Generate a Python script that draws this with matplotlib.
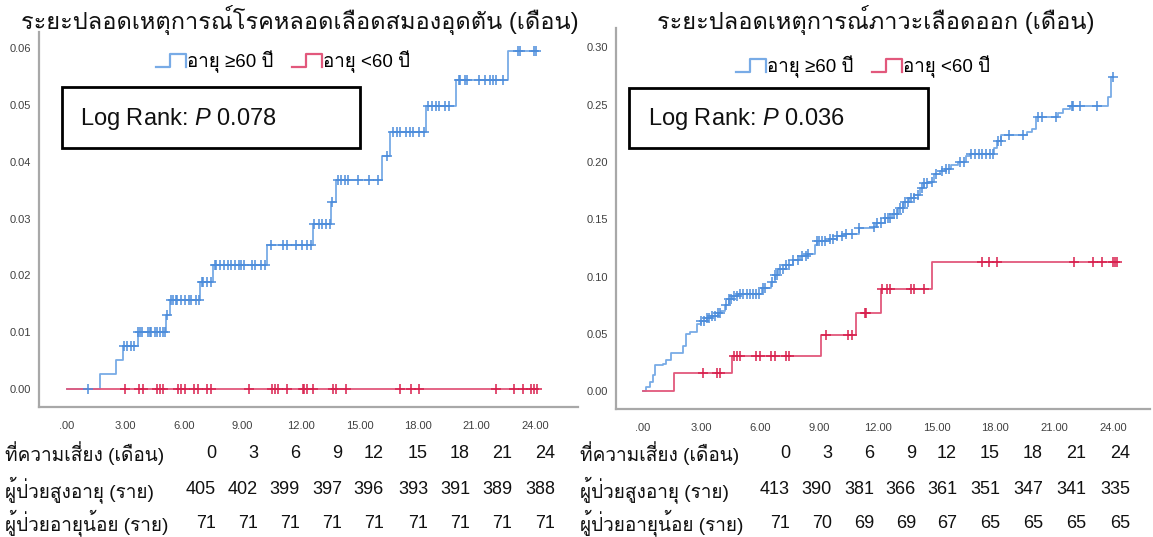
import matplotlib
matplotlib.use("Agg")
import matplotlib.pyplot as plt
import numpy as np
from matplotlib.lines import Line2D
from matplotlib.patches import Rectangle
from matplotlib.legend_handler import HandlerBase

plt.rcParams['font.family'] = ['Liberation Sans', 'Loma', 'Noto Sans Thai Looped', 'DejaVu Sans']
plt.rcParams['mathtext.fontset'] = 'custom'
plt.rcParams['mathtext.rm'] = 'Liberation Sans'
plt.rcParams['mathtext.it'] = 'Liberation Sans:italic'

# ---------------- data ----------------
titles = ["ระยะปลอดเหตุการณ์โรคหลอดเลือดสมองอุดตัน (เดือน)",
          "ระยะปลอดเหตุการณ์ภาวะเลือดออก (เดือน)"]
legend_labels = ["อายุ ≥60 ปี", "อายุ <60 ปี"]
pvalue_texts = ["Log Rank: $\\mathit{P}$ 0.078", "Log Rank: $\\mathit{P}$ 0.036"]

# Left panel (ischemic stroke): elderly group
l_old_t = [1.70, 2.51, 2.86, 3.62, 5.09, 5.28, 6.84, 7.50, 10.27, 12.61, 13.52, 13.79,
           16.13, 16.57, 18.38, 19.95, 22.60]
l_old_v = [0.0026, 0.0051, 0.0075, 0.0101, 0.0130, 0.0157, 0.0188, 0.0219, 0.0254, 0.0290,
           0.0330, 0.0368, 0.0410, 0.0453, 0.0498, 0.0545, 0.0595]
l_old_end = 24.1
l_old_cens = [1.09, 2.90, 3.09, 3.28, 3.41, 3.66, 3.75, 3.85, 4.13, 4.23, 4.32, 4.51, 4.61,
              4.74, 4.90, 5.03, 5.12, 5.31, 5.43, 5.56, 5.66, 5.85, 6.04, 6.23, 6.38, 6.61,
              6.76, 6.90, 6.99, 7.18, 7.37, 7.56, 7.66, 7.85, 8.04, 8.23, 8.42, 8.61, 8.80,
              8.90, 9.09, 9.47, 9.66, 9.94, 10.13, 10.48, 11.09, 11.28, 11.75, 12.04, 12.32,
              12.51, 12.67, 12.90, 13.09, 13.28, 13.47, 13.56, 13.89, 14.04, 14.23, 14.42,
              14.90, 15.47, 15.94, 16.42, 16.70, 16.90, 17.09, 17.37, 17.56, 17.75, 18.04,
              18.32, 18.51, 18.70, 18.90, 19.09, 19.37, 19.56, 20.10, 20.15, 20.41, 20.50,
              21.10, 21.44, 21.70, 21.85, 22.00, 22.36, 23.14, 23.23, 23.95, 24.05]
# Left panel: younger group (no events)
l_young_t = []
l_young_v = []
l_young_end = 24.1
l_young_cens = [2.99, 3.71, 3.90, 4.61, 4.74, 4.90, 5.71, 5.85, 6.04, 6.51, 6.70, 7.18, 7.37,
                9.31, 10.51, 10.65, 10.84, 11.28, 12.10, 12.17, 12.29, 12.61, 13.62, 13.81,
                14.32, 17.05, 17.62, 18.04, 22.00, 22.90, 23.37, 23.79, 23.94, 24.10]

# Right panel (bleeding): elderly group
r_old_t = [0.15, 0.34, 0.53, 0.62, 1.00, 1.18, 1.43, 2.03, 2.22, 2.40, 2.74, 2.97, 3.25,
           3.53, 3.81, 4.00, 4.19, 4.38, 4.56, 4.85, 6.07, 6.54, 6.72, 6.91, 7.29, 7.66,
           8.04, 8.41, 8.79, 8.88, 9.54, 9.92, 10.29, 11.04, 11.79, 11.89, 12.36, 12.73,
           13.01, 13.30, 13.58, 13.86, 14.14, 14.33, 14.61, 14.89, 15.17, 15.46, 15.74,
           16.11, 16.49, 16.68, 17.95, 18.10, 18.30, 19.60, 19.85, 20.10, 21.20, 21.45,
           21.80, 23.75, 23.90]
r_old_v = [0.0035, 0.0078, 0.0136, 0.0223, 0.0238, 0.0267, 0.0331, 0.0397, 0.0499, 0.0519,
           0.0586, 0.0615, 0.0635, 0.0658, 0.0682, 0.0702, 0.0751, 0.0803, 0.0832, 0.0847,
           0.0896, 0.0948, 0.1012, 0.1064, 0.1099, 0.1146, 0.1180, 0.1195, 0.1273, 0.1311,
           0.1331, 0.1354, 0.1369, 0.1427, 0.1436, 0.1470, 0.1510, 0.1545, 0.1595, 0.1650,
           0.1685, 0.1712, 0.1775, 0.1813, 0.1824, 0.1891, 0.1920, 0.1940, 0.1978, 0.1998,
           0.2050, 0.2070, 0.2120, 0.2180, 0.2240, 0.2260, 0.2290, 0.2395, 0.2430, 0.2460,
           0.2490, 0.2570, 0.2745]
r_old_end = 24.0
r_old_cens = [2.97, 3.12, 3.25, 3.38, 3.53, 3.68, 3.81, 3.94, 4.24, 4.38, 4.47, 4.66, 4.81,
              4.94, 5.13, 5.31, 5.45, 5.60, 5.78, 5.93, 6.12, 6.25, 6.57, 6.72, 6.87, 7.00,
              7.14, 7.29, 7.47, 7.66, 7.94, 8.13, 8.32, 8.45, 8.88, 9.01, 9.16, 9.31, 9.54,
              9.73, 9.92, 10.14, 10.38, 10.67, 11.04, 11.79, 11.94, 12.17, 12.36, 12.51,
              12.64, 12.83, 12.96, 13.11, 13.26, 13.39, 13.52, 13.67, 13.82, 14.05, 14.23,
              14.38, 14.52, 14.76, 14.95, 15.27, 15.46, 15.64, 16.21, 16.39, 16.77, 16.96,
              17.15, 17.33, 17.52, 17.71, 17.90, 18.14, 18.27, 18.70, 19.40, 20.20, 20.40,
              21.10, 21.90, 21.96, 22.30, 23.20, 24.00]
# Right panel: younger group
r_young_t = [1.56, 4.56, 9.07, 10.89, 12.17, 14.76]
r_young_v = [0.016, 0.031, 0.049, 0.068, 0.089, 0.113]
r_young_end = 24.19
r_young_cens = [3.06, 3.76, 3.91, 4.66, 4.79, 4.94, 5.78, 5.97, 6.54, 6.72, 7.29, 7.44,
                9.35, 10.48, 10.67, 11.32, 11.38, 12.21, 12.45, 12.64, 13.67, 13.86, 14.38,
                17.33, 17.65, 18.08, 22.03, 22.97, 23.44, 24.00, 24.09, 24.19]

# risk table
risk_header = "ที่ความเสี่ยง (เดือน)"
risk_row_old = "ผู้ป่วยสูงอายุ (ราย)"
risk_row_young = "ผู้ป่วยอายุน้อย (ราย)"
risk_months = [0, 3, 6, 9, 12, 15, 18, 21, 24]
l_risk_old = [405, 402, 399, 397, 396, 393, 391, 389, 388]
l_risk_young = [71, 71, 71, 71, 71, 71, 71, 71, 71]
r_risk_old = [413, 390, 381, 366, 361, 351, 347, 341, 335]
r_risk_young = [71, 70, 69, 69, 67, 65, 65, 65, 65]

xticks = [0, 3, 6, 9, 12, 15, 18, 21, 24]

# ---------------- style ----------------
BLUE_LINE = '#78abe6'
BLUE_MK = '#4d8ddb'
RED_LINE = '#e2587c'
RED_MK = '#d8214e'
W, H = 1153, 537

fig = plt.figure(figsize=(W / 100, H / 100), dpi=100)


def fx(px):
    return px / W


def fy(py):
    return 1 - py / H


def km(ax, times, vals, end, cens, lc, mc):
    xs = np.concatenate([[0.0], np.asarray(times, float), [end]])
    ys = np.concatenate([[0.0], np.asarray(vals, float), [vals[-1] if len(vals) else 0.0]])
    ax.step(xs, ys, where='post', color=lc, lw=1.3, zorder=2)
    c = np.asarray(cens, float)
    idx = np.searchsorted(xs, c, side='right') - 1
    ax.plot(c, ys[idx], ls='none', marker='+', ms=7, mew=1.1, color=mc, zorder=3)


class StepHandler(HandlerBase):
    def create_artists(self, legend, orig_handle, xdescent, ydescent, width, height,
                       fontsize, trans):
        x0, y0 = -xdescent, -ydescent
        xs = [x0, x0 + 0.45 * width, x0 + 0.45 * width, x0 + width, x0 + width]
        ys = [y0, y0, y0 + height * 1.05, y0 + height * 1.05, y0]
        ln = Line2D(xs, ys, color=orig_handle.get_color(), lw=1.6)
        ln.set_transform(trans)
        return [ln]


panels = [
    dict(rect=(39, 32, 578, 407), xlim=(-1.44, 26.2), ylim=(-0.0032, 0.0629),
         yticks=[0, 0.01, 0.02, 0.03, 0.04, 0.05, 0.06],
         old=(l_old_t, l_old_v, l_old_end, l_old_cens),
         young=(l_young_t, l_young_v, l_young_end, l_young_cens),
         title_x=300, legend_x=283, legend_y=62, box=(62, 87, 360, 148), text_x=80,
         risk_old=l_risk_old, risk_young=l_risk_young, label_x=5,
         col_x=[216, 258, 300, 342, 384, 428, 470, 512, 555]),
    dict(rect=(616, 28, 1150, 409), xlim=(-1.38, 25.9), ylim=(-0.0157, 0.317),
         yticks=[0, 0.05, 0.10, 0.15, 0.20, 0.25, 0.30],
         old=(r_old_t, r_old_v, r_old_end, r_old_cens),
         young=(r_young_t, r_young_v, r_young_end, r_young_cens),
         title_x=876, legend_x=863, legend_y=67, box=(629, 88, 928, 148), text_x=648,
         risk_old=r_risk_old, risk_young=r_risk_young, label_x=580,
         col_x=[790, 832, 874, 916, 957, 1000, 1043, 1086, 1130]),
]

for i, p in enumerate(panels):
    x0, y0, x1, y1 = p['rect']
    ax = fig.add_axes([fx(x0), fy(y1), fx(x1 - x0), (y1 - y0) / H])
    km(ax, *p['old'], BLUE_LINE, BLUE_MK)
    km(ax, *p['young'], RED_LINE, RED_MK)
    ax.set_xlim(*p['xlim'])
    ax.set_ylim(*p['ylim'])
    ax.set_xticks(xticks)
    ax.set_xticklabels([('%.2f' % v).lstrip('0') if v == 0 else '%.2f' % v for v in xticks])
    ax.set_yticks(p['yticks'])
    ax.set_yticklabels(['%.2f' % v for v in p['yticks']])
    for s in ['top', 'right']:
        ax.spines[s].set_visible(False)
    for s in ['left', 'bottom']:
        ax.spines[s].set_color('#a8a8a8')
        ax.spines[s].set_linewidth(1.6)
    ax.tick_params(length=0, labelsize=8, labelcolor='#404040')
    ax.tick_params(axis='x', pad=10)
    ax.tick_params(axis='y', pad=6)
    ax.set_facecolor('none')

    # title
    fig.text(fx(p['title_x']), fy(20), titles[i], ha='center', va='center', fontsize=17,
             color='#111111')
    # legend
    h1 = Line2D([], [], color=BLUE_LINE)
    h2 = Line2D([], [], color=RED_LINE)
    fig.legend([h1, h2], legend_labels, loc='center', bbox_to_anchor=(fx(p['legend_x']), fy(p['legend_y'])),
               ncol=2, frameon=False, fontsize=13.5, handlelength=1.6, handleheight=0.7,
               handletextpad=0.05, columnspacing=1.0, handler_map={Line2D: StepHandler()})
    # log-rank box
    bx0, by0, bx1, by1 = p['box']
    fig.patches.append(Rectangle((fx(bx0), fy(by1)), fx(bx1 - bx0), (by1 - by0) / H,
                                 transform=fig.transFigure, fill=False, ec='black', lw=2))
    fig.text(fx(p['text_x']), fy((by0 + by1) / 2 + 1), pvalue_texts[i], ha='left', va='center',
             fontsize=17, color='#111111')

    # risk table
    rows = [(risk_header, risk_months, 453), (risk_row_old, p['risk_old'], 490),
            (risk_row_young, p['risk_young'], 523)]
    for label, vals, ypx in rows:
        fig.text(fx(p['label_x']), fy(ypx), label, ha='left', va='center', fontsize=13.7,
                 color='#111111')
        for xv, v in zip(p['col_x'], vals):
            fig.text(fx(xv), fy(ypx), str(v), ha='right', va='center', fontsize=13,
                     color='#111111')

fig.savefig("out.png", dpi=100)
